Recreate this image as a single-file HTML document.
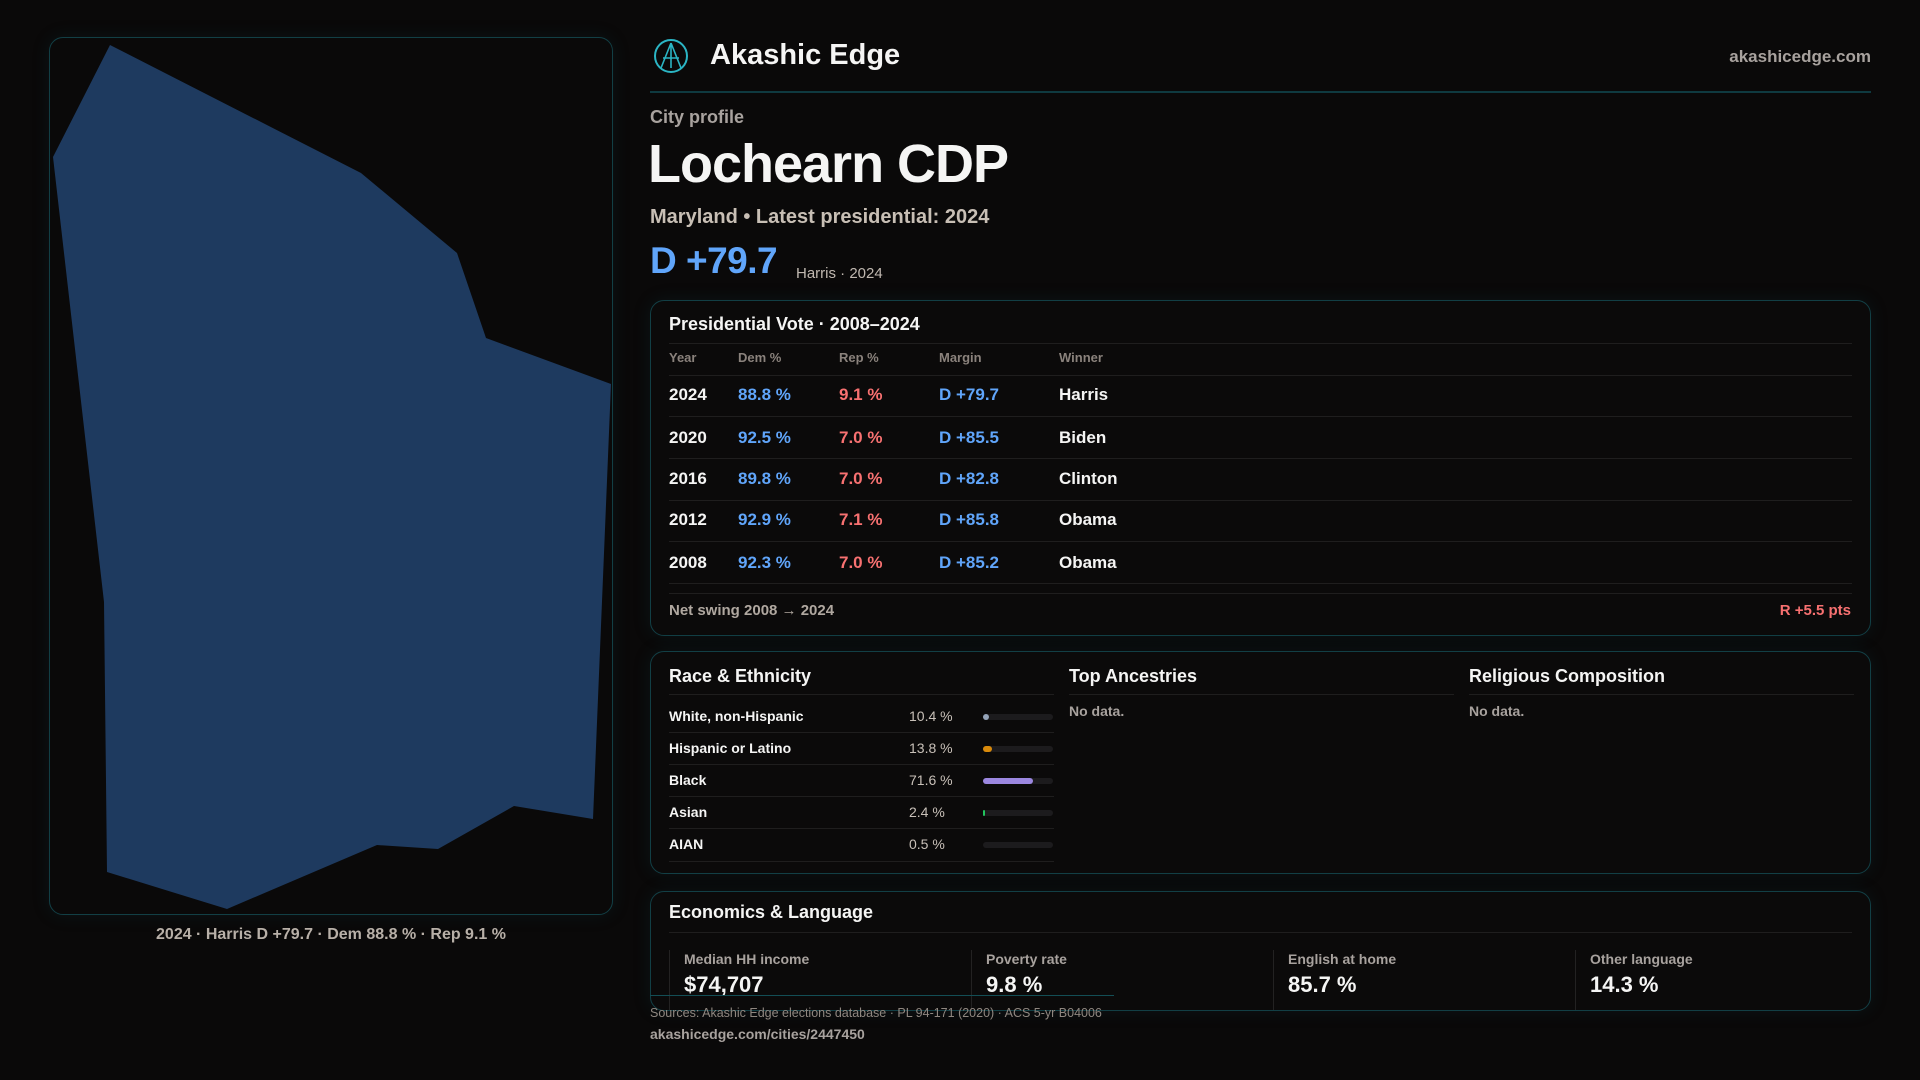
<!DOCTYPE html>
<html><head><meta charset="utf-8"><style>
*{margin:0;padding:0;box-sizing:border-box}
body{width:1920px;height:1080px;background:#0a0909;font-family:"Liberation Sans",sans-serif;color:#f5f5f4;position:relative;overflow:hidden}
.a{position:absolute;white-space:nowrap}
.card{position:absolute;border:1.5px solid #123f45;border-radius:14px;background:#0b0a0a;box-shadow:0 0 18px rgba(20,90,100,0.15)}
.g{color:#a8a29e}
.hl{position:absolute;height:1px;background:#1f1e1e}
.blue{color:#60a5fa}.red{color:#f87171}
.row{font-size:17px;font-weight:bold}
.lbl{font-size:14px;font-weight:bold;color:#f5f5f4}
.val{font-size:14px;color:#c8c0b8}
.bar{position:absolute;left:983px;width:70px;height:6px;background:#1c1b1d;border-radius:3px}
.bar i{position:absolute;left:0;top:0;height:6px;border-radius:3px}
.sl{position:absolute;width:1px;background:#232222}
</style></head><body>
<div class="card" style="left:49px;top:37px;width:564px;height:878px;background:#0a0909"></div>
<svg class="a" style="left:0;top:0" width="620" height="920"><polygon fill="#1e3a5f" points="110,45 53,157 104,602 107,872 227,909 377,845 438,849 514,806 593,819 611,384 486,338 457,253 361,173"/></svg>
<div class="a g" style="left:0;width:662px;text-align:center;top:926px;font-size:16px;font-weight:bold;color:#b8b0a8">2024 · Harris D +79.7 · Dem 88.8 % · Rep 9.1 %</div>

<svg class="a" style="left:653px;top:38px" width="36" height="36"><circle cx="18" cy="18" r="16" fill="none" stroke="#2bb5c4" stroke-width="2"/><path d="M18 5 L8 30 M18 5 L28 30 M10 20 L26 20 M18 5 L18 30" stroke="#2bb5c4" stroke-width="1.6" fill="none"/></svg>
<div class="a" style="left:710px;top:39px;font-size:29px;font-weight:bold">Akashic Edge</div>
<div class="a g" style="right:49px;top:47px;font-size:17px;font-weight:bold">akashicedge.com</div>
<div class="a" style="left:650px;top:91px;width:1221px;height:2px;background:#0f3a40"></div>
<div class="a g" style="left:650px;top:107px;font-size:18px;font-weight:bold">City profile</div>
<div class="a" style="left:648px;top:133px;font-size:54px;font-weight:bold;letter-spacing:-1px">Lochearn CDP</div>
<div class="a" style="left:650px;top:206px;font-size:20px;font-weight:bold;color:#c8bfb5">Maryland • Latest presidential: 2024</div>
<div class="a blue" style="left:650px;top:240px;font-size:37px;font-weight:bold;letter-spacing:-0.5px">D +79.7</div>
<div class="a g" style="left:796px;top:265px;font-size:15px;color:#c0b8b0">Harris · 2024</div>

<div class="card" style="left:650px;top:300px;width:1221px;height:336px"></div>
<div class="a" style="left:669px;top:314px;font-size:18px;font-weight:bold">Presidential Vote · 2008–2024</div>
<div class="hl" style="left:669px;top:343px;width:1183px"></div>
<div class="a g" style="left:669px;top:350px;font-size:13px;font-weight:bold;color:#8a827c">Year</div>
<div class="a g" style="left:738px;top:350px;font-size:13px;font-weight:bold;color:#8a827c">Dem %</div>
<div class="a g" style="left:839px;top:350px;font-size:13px;font-weight:bold;color:#8a827c">Rep %</div>
<div class="a g" style="left:939px;top:350px;font-size:13px;font-weight:bold;color:#8a827c">Margin</div>
<div class="a g" style="left:1059px;top:350px;font-size:13px;font-weight:bold;color:#8a827c">Winner</div>
<div class="hl" style="left:669px;top:375px;width:1183px"></div>
<div class="hl" style="left:669px;top:416px;width:1183px"></div>
<div class="hl" style="left:669px;top:458px;width:1183px"></div>
<div class="hl" style="left:669px;top:500px;width:1183px"></div>
<div class="hl" style="left:669px;top:541px;width:1183px"></div>
<div class="hl" style="left:669px;top:583px;width:1183px"></div>
<div class="hl" style="left:669px;top:593px;width:1183px"></div>

<div class="a row" style="left:669px;top:385px">2024</div><div class="a row blue" style="left:738px;top:385px">88.8 %</div><div class="a row red" style="left:839px;top:385px">9.1 %</div><div class="a row blue" style="left:939px;top:385px">D +79.7</div><div class="a row" style="left:1059px;top:385px">Harris</div>
<div class="a row" style="left:669px;top:428px">2020</div><div class="a row blue" style="left:738px;top:428px">92.5 %</div><div class="a row red" style="left:839px;top:428px">7.0 %</div><div class="a row blue" style="left:939px;top:428px">D +85.5</div><div class="a row" style="left:1059px;top:428px">Biden</div>
<div class="a row" style="left:669px;top:469px">2016</div><div class="a row blue" style="left:738px;top:469px">89.8 %</div><div class="a row red" style="left:839px;top:469px">7.0 %</div><div class="a row blue" style="left:939px;top:469px">D +82.8</div><div class="a row" style="left:1059px;top:469px">Clinton</div>
<div class="a row" style="left:669px;top:510px">2012</div><div class="a row blue" style="left:738px;top:510px">92.9 %</div><div class="a row red" style="left:839px;top:510px">7.1 %</div><div class="a row blue" style="left:939px;top:510px">D +85.8</div><div class="a row" style="left:1059px;top:510px">Obama</div>
<div class="a row" style="left:669px;top:553px">2008</div><div class="a row blue" style="left:738px;top:553px">92.3 %</div><div class="a row red" style="left:839px;top:553px">7.0 %</div><div class="a row blue" style="left:939px;top:553px">D +85.2</div><div class="a row" style="left:1059px;top:553px">Obama</div>
<div class="a g" style="left:669px;top:602px;font-size:15px;font-weight:bold;color:#b0a8a0">Net swing 2008 → 2024</div>
<div class="a red" style="right:69px;top:602px;font-size:15px;font-weight:bold">R +5.5 pts</div>

<div class="card" style="left:650px;top:651px;width:1221px;height:223px"></div>
<div class="a" style="left:669px;top:666px;font-size:18px;font-weight:bold">Race &amp; Ethnicity</div>
<div class="a" style="left:1069px;top:666px;font-size:18px;font-weight:bold">Top Ancestries</div>
<div class="a" style="left:1469px;top:666px;font-size:18px;font-weight:bold">Religious Composition</div>
<div class="hl" style="left:669px;top:694px;width:385px"></div>
<div class="hl" style="left:1069px;top:694px;width:385px"></div>
<div class="hl" style="left:1469px;top:694px;width:385px"></div>
<div class="a g" style="left:1069px;top:703px;font-size:14px;font-weight:bold">No data.</div>
<div class="a g" style="left:1469px;top:703px;font-size:14px;font-weight:bold">No data.</div>
<div class="a lbl" style="left:669px;top:708px">White, non-Hispanic</div><div class="a val" style="left:909px;top:708px">10.4 %</div><div class="bar" style="top:714px"><i style="width:6px;background:#94a3b8"></i></div>
<div class="a lbl" style="left:669px;top:740px">Hispanic or Latino</div><div class="a val" style="left:909px;top:740px">13.8 %</div><div class="bar" style="top:746px"><i style="width:9px;background:#d98a0b"></i></div>
<div class="a lbl" style="left:669px;top:772px">Black</div><div class="a val" style="left:909px;top:772px">71.6 %</div><div class="bar" style="top:778px"><i style="width:50px;background:#9b87e0"></i></div>
<div class="a lbl" style="left:669px;top:804px">Asian</div><div class="a val" style="left:909px;top:804px">2.4 %</div><div class="bar" style="top:810px"><i style="width:2px;background:#22c55e"></i></div>
<div class="a lbl" style="left:669px;top:836px">AIAN</div><div class="a val" style="left:909px;top:836px">0.5 %</div><div class="bar" style="top:842px"></div>
<div class="hl" style="left:669px;top:732px;width:385px"></div>
<div class="hl" style="left:669px;top:764px;width:385px"></div>
<div class="hl" style="left:669px;top:796px;width:385px"></div>
<div class="hl" style="left:669px;top:828px;width:385px"></div>
<div class="hl" style="left:669px;top:861px;width:385px"></div>

<div class="card" style="left:650px;top:891px;width:1221px;height:120px"></div>
<div class="a" style="left:669px;top:902px;font-size:18px;font-weight:bold">Economics &amp; Language</div>
<div class="hl" style="left:669px;top:932px;width:1183px"></div>
<div class="sl" style="left:669px;top:950px;height:60px"></div>
<div class="sl" style="left:971px;top:950px;height:60px"></div>
<div class="sl" style="left:1273px;top:950px;height:60px"></div>
<div class="sl" style="left:1575px;top:950px;height:60px"></div>
<div class="a g" style="left:684px;top:951px;font-size:14px;font-weight:bold">Median HH income</div>
<div class="a g" style="left:986px;top:951px;font-size:14px;font-weight:bold">Poverty rate</div>
<div class="a g" style="left:1288px;top:951px;font-size:14px;font-weight:bold">English at home</div>
<div class="a g" style="left:1590px;top:951px;font-size:14px;font-weight:bold">Other language</div>
<div class="a" style="left:684px;top:972px;font-size:22px;font-weight:bold">$74,707</div>
<div class="a" style="left:986px;top:972px;font-size:22px;font-weight:bold">9.8 %</div>
<div class="a" style="left:1288px;top:972px;font-size:22px;font-weight:bold">85.7 %</div>
<div class="a" style="left:1590px;top:972px;font-size:22px;font-weight:bold">14.3 %</div>
<div class="a" style="left:650px;top:995px;width:464px;height:1px;background:#134e55"></div>
<div class="a g" style="left:650px;top:1006px;font-size:12.5px;color:#8f8780">Sources: Akashic Edge elections database · PL 94-171 (2020) · ACS 5-yr B04006</div>
<div class="a g" style="left:650px;top:1026px;font-size:14px;font-weight:bold">akashicedge.com/cities/2447450</div>
</body></html>
